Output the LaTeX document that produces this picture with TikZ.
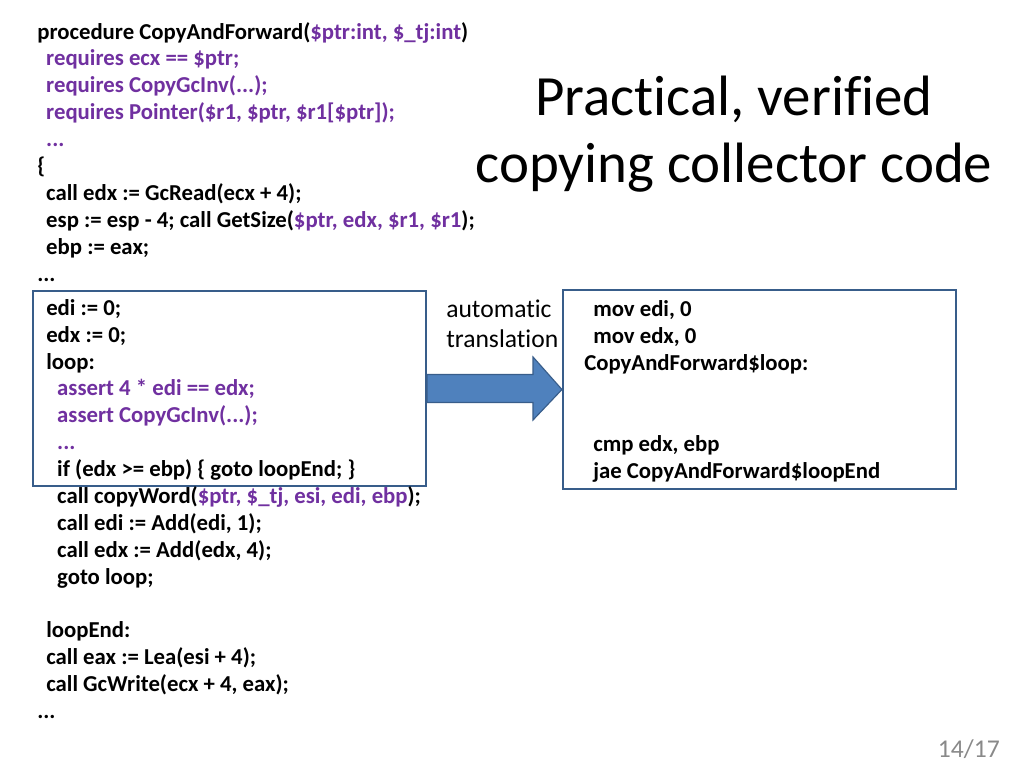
\documentclass[tikz,border=0pt]{standalone}
\usepackage{fontspec}
\setmainfont{Carlito}[Ligatures=NoCommon]
\usetikzlibrary{calc}
\definecolor{codepurple}{RGB}{112,48,160}
\definecolor{boxblue}{RGB}{56,93,138}
\definecolor{arrowblue}{RGB}{79,129,189}
\definecolor{numgray}{RGB}{137,137,137}
\newcommand\sv[1]{\textcolor{codepurple}{#1}}
\newcommand\indA{\hspace*{6.3pt}}
\newcommand\indB{\hspace*{7.7pt}}
\tikzset{
  code/.style={font=\bfseries\fontsize{16}{18.9}\selectfont,align=left,
    inner sep=0pt,anchor=base west},
  codebox/.style={draw=boxblue,line width=1.5pt,minimum width=276.3pt,
    inner sep=0pt},
  bigarrow/.style={draw=boxblue,line width=0.8pt,fill=arrowblue}
}
\begin{document}
\begin{tikzpicture}[x=0.703125pt,y=-0.703125pt]
  \useasboundingbox[fill=white] (0,0) rectangle (1024,768);
  \path (229.5,388.5) node[codebox,minimum height=137.1pt] (lbox) {};
  \path (759.5,389.5) node[codebox,minimum height=139.9pt] (rbox) {};
  \path[bigarrow] ($(lbox.east)+(0,-14)$) -- ($(lbox.east)+(106,-14)$)
    -- ($(lbox.east)+(106,-31.5)$) -- (rbox.west)
    -- ($(lbox.east)+(106,31.5)$) -- ($(lbox.east)+(106,14)$)
    -- ($(lbox.east)+(0,14)$) -- cycle;
  \path (37,281) node[code] (hdr) {procedure CopyAndForward(\sv{\$ptr:int, \$\_tj:int})\\
    \indA\sv{requires ecx == \$ptr;}\\
    \indA\sv{requires CopyGcInv(...);}\\
    \indA\sv{requires Pointer(\$r1, \$ptr, \$r1[\$ptr]);}\\
    \indA\sv{...}\\
    \{\\
    \indA call edx := GcRead(ecx + 4);\\
    \indA esp := esp - 4; call GetSize(\sv{\$ptr, edx, \$r1, \$r1});\\
    \indA ebp := eax;\\
    ...};
  \path (46,718.5) node[code] (body) {edi := 0;\\
    edx := 0;\\
    loop:\\
    \indB\sv{assert 4 * edi == edx;}\\
    \indB\sv{assert CopyGcInv(...);}\\
    \indB\sv{...}\\
    \indB if (edx >= ebp) \{ goto loopEnd; \}\\
    \indB call copyWord(\sv{\$ptr, \$\_tj, esi, edi, ebp});\\
    \indB call edi := Add(edi, 1);\\
    \indB call edx := Add(edx, 4);\\
    \indB goto loop;\\
    \mbox{}\\
    loopEnd:\\
    call eax := Lea(esi + 4);\\
    call GcWrite(ecx + 4, eax);\\
    \hspace*{-6.3pt}...};
  \path (584,478) node[code] (asm) {\indA mov edi, 0\\
    \indA mov edx, 0\\
    CopyAndForward\$loop:\\
    \mbox{}\\
    \mbox{}\\
    \indA cmp edx, ebp\\
    \indA jae CopyAndForward\$loopEnd};
  \path (446,347) node[code,font=\fontsize{18}{21}\selectfont] (note)
    {automatic\\translation};
  \path (734,183) node[inner sep=0pt,anchor=base,align=center,
    font=\fontsize{40}{47.8}\selectfont] (title)
    {Practical, verified\\copying collector code};
  \path (1000,757) node[inner sep=0pt,anchor=base east,text=numgray,
    font=\fontsize{18}{21}\selectfont] (pnum) {14/17};
\end{tikzpicture}
\end{document}
